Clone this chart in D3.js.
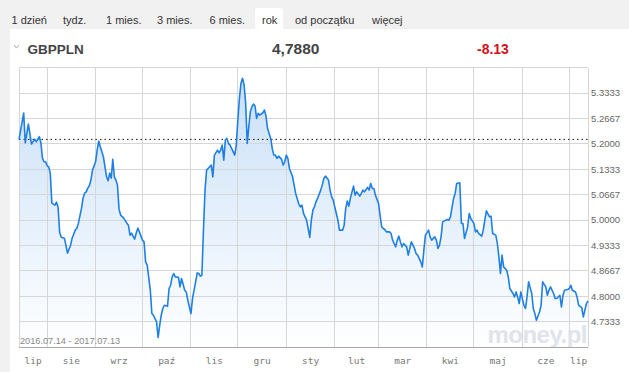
<!DOCTYPE html>
<html>
<head>
<meta charset="utf-8">
<script src="https://cdn.jsdelivr.net/npm/d3@7"></script>
<style>
html,body{margin:0;padding:0;background:#f1f1f1;}
svg{display:block;}
</style>
</head>
<body>
<svg id="chart" width="629" height="372"></svg>
<script>
// ---- data ----
const tabs = ["1 dzień","tydz.","1 mies.","3 mies.","6 mies.","rok","od początku","więcej"];
const activeTab = "rok";
const symbol = "GBPPLN";
const lastPrice = "4,7880";
const changePct = "-8.13";
const rangeLabel = "2016.07.14 - 2017.07.13";
const startDate = "2016-07-14";
const endDate = "2017-07-13";
const refValue = 5.2117;
const yTickLabels = ["4.7333","4.8000","4.8667","4.9333","5.0000","5.0667","5.1333","5.2000","5.2667","5.3333"];
const yMin = 4.6667, yMax = 5.4000;
const monthLabels = ["lip","sie","wrz","paź","lis","gru","sty","lut","mar","kwi","maj","cze","lip"];
const monthStarts = ["2016-07-01","2016-08-01","2016-09-01","2016-10-01","2016-11-01","2016-12-01","2017-01-01","2017-02-01","2017-03-01","2017-04-01","2017-05-01","2017-06-01","2017-07-01"];

const dates = [
"2016-07-14","2016-07-17","2016-07-18","2016-07-20","2016-07-22","2016-07-24","2016-07-25","2016-07-26","2016-07-27","2016-07-28","2016-07-29","2016-07-30","2016-07-31",
"2016-08-01","2016-08-02","2016-08-03","2016-08-04","2016-08-05","2016-08-06","2016-08-07","2016-08-08","2016-08-09","2016-08-10","2016-08-12","2016-08-13","2016-08-14","2016-08-16","2016-08-17","2016-08-19","2016-08-20","2016-08-21","2016-08-23","2016-08-24","2016-08-25","2016-08-26","2016-08-27","2016-08-28","2016-08-29","2016-08-30",
"2016-09-01","2016-09-02","2016-09-03","2016-09-04","2016-09-06","2016-09-07","2016-09-08","2016-09-09","2016-09-10","2016-09-11","2016-09-12","2016-09-13","2016-09-14","2016-09-15","2016-09-16","2016-09-17","2016-09-19","2016-09-21","2016-09-22","2016-09-23","2016-09-24","2016-09-26","2016-09-27","2016-09-28","2016-09-29",
"2016-10-01","2016-10-02","2016-10-03","2016-10-04","2016-10-06","2016-10-07","2016-10-08","2016-10-10","2016-10-11","2016-10-12","2016-10-13","2016-10-14","2016-10-15","2016-10-17","2016-10-18","2016-10-19","2016-10-20","2016-10-21","2016-10-22","2016-10-24","2016-10-25","2016-10-26","2016-10-28","2016-10-29","2016-10-30",
"2016-11-01","2016-11-02","2016-11-04","2016-11-05","2016-11-06","2016-11-07","2016-11-08","2016-11-09","2016-11-10","2016-11-11","2016-11-13","2016-11-14","2016-11-15","2016-11-16","2016-11-18","2016-11-19","2016-11-20","2016-11-21","2016-11-22","2016-11-23","2016-11-24","2016-11-25","2016-11-26","2016-11-27","2016-11-29","2016-11-30",
"2016-12-01","2016-12-02","2016-12-03","2016-12-04","2016-12-05","2016-12-06","2016-12-07","2016-12-08","2016-12-09","2016-12-10","2016-12-11","2016-12-12","2016-12-13","2016-12-14","2016-12-15","2016-12-17","2016-12-18","2016-12-19","2016-12-20","2016-12-22","2016-12-23","2016-12-24","2016-12-25","2016-12-26","2016-12-27","2016-12-29","2016-12-30","2016-12-31",
"2017-01-01","2017-01-02","2017-01-03","2017-01-05","2017-01-06","2017-01-07","2017-01-09","2017-01-10","2017-01-11","2017-01-12","2017-01-14","2017-01-16","2017-01-17","2017-01-18","2017-01-19","2017-01-20","2017-01-21","2017-01-23","2017-01-24","2017-01-25","2017-01-26","2017-01-28","2017-01-29","2017-01-30","2017-01-31",
"2017-02-01","2017-02-03","2017-02-04","2017-02-06","2017-02-07","2017-02-08","2017-02-09","2017-02-10","2017-02-11","2017-02-13","2017-02-14","2017-02-15","2017-02-17","2017-02-18","2017-02-19","2017-02-20","2017-02-22","2017-02-23","2017-02-24","2017-02-25","2017-02-26","2017-02-27",
"2017-03-01","2017-03-02","2017-03-03","2017-03-04","2017-03-05","2017-03-06","2017-03-08","2017-03-09","2017-03-10","2017-03-12","2017-03-13","2017-03-14","2017-03-15","2017-03-16","2017-03-17","2017-03-19","2017-03-20","2017-03-21","2017-03-22","2017-03-24","2017-03-25","2017-03-26","2017-03-28","2017-03-29","2017-03-30","2017-03-31",
"2017-04-02","2017-04-03","2017-04-04","2017-04-06","2017-04-07","2017-04-08","2017-04-09","2017-04-10","2017-04-11","2017-04-13","2017-04-14","2017-04-15","2017-04-16","2017-04-18","2017-04-19","2017-04-20","2017-04-22","2017-04-23","2017-04-24","2017-04-25","2017-04-27","2017-04-28","2017-04-29",
"2017-05-01","2017-05-02","2017-05-03","2017-05-04","2017-05-06","2017-05-07","2017-05-08","2017-05-09","2017-05-11","2017-05-12","2017-05-13","2017-05-15","2017-05-16","2017-05-17","2017-05-18","2017-05-19","2017-05-20","2017-05-22","2017-05-23","2017-05-24","2017-05-26","2017-05-27","2017-05-28","2017-05-29","2017-05-30","2017-05-31",
"2017-06-02","2017-06-03","2017-06-04","2017-06-05","2017-06-07","2017-06-08","2017-06-09","2017-06-10","2017-06-12","2017-06-13","2017-06-14","2017-06-16","2017-06-17","2017-06-18","2017-06-19","2017-06-21","2017-06-22","2017-06-23","2017-06-25","2017-06-26","2017-06-27","2017-06-28","2017-06-30",
"2017-07-01","2017-07-02","2017-07-03","2017-07-05","2017-07-06","2017-07-07","2017-07-09","2017-07-10","2017-07-12","2017-07-13"
];
const values = [
5.2117,5.2809,5.2029,5.2520,5.1995,5.2126,5.2055,5.2126,5.2187,5.2029,5.1627,5.1530,5.1530,
5.1424,5.1398,5.1233,5.0444,5.0418,5.0392,5.0470,5.0339,4.9682,4.9551,4.9524,4.9340,4.9130,4.9340,4.9524,4.9735,4.9787,4.9919,5.0313,5.0576,5.0707,5.0741,5.0838,5.0899,5.1049,5.1311,
5.1530,5.1837,5.2074,5.1924,5.1661,5.1398,5.1135,5.1030,5.1233,5.1101,5.1593,5.1135,5.1049,5.0917,5.0286,5.0129,5.0050,4.9919,4.9866,4.9603,4.9656,4.9498,4.9656,4.9787,4.9690,
4.9472,4.9427,4.8902,4.8815,4.8158,4.7545,4.7501,4.7325,4.6915,4.7238,4.7501,4.7677,4.7764,4.7737,4.8202,4.8289,4.8507,4.8597,4.8507,4.8499,4.8244,4.8465,4.8158,4.8113,4.7895,
4.7545,4.7940,4.8376,4.8612,4.8597,4.8526,4.8552,4.9735,5.0786,5.1311,5.1398,5.1443,5.1135,5.1706,5.1837,5.1766,5.1837,5.1968,5.1574,5.2100,5.2144,5.2013,5.1968,5.1882,5.1706,5.1968,
5.2625,5.3196,5.3590,5.3721,5.3545,5.3064,5.2013,5.2449,5.2844,5.2975,5.3046,5.2993,5.2670,5.2801,5.2757,5.2817,5.2888,5.2731,5.2407,5.2144,5.1882,5.1706,5.1706,5.1619,5.1679,5.1593,5.1443,5.1530,
5.1706,5.1619,5.1356,5.1135,5.0917,5.0699,5.0418,5.0347,5.0392,5.0173,4.9997,4.9543,4.9997,5.0260,5.0347,5.0478,5.0568,5.0786,5.0917,5.1093,5.1154,5.1049,5.0786,5.0610,5.0523,
5.0347,4.9997,4.9735,4.9735,4.9866,5.0305,5.0497,5.0365,5.0576,5.0891,5.0654,5.0741,5.0628,5.0699,5.0786,5.0741,5.0857,5.0786,5.0962,5.0830,5.0830,5.0654,
5.0436,5.0129,4.9821,4.9779,4.9753,4.9690,4.9690,4.9648,4.9472,4.9296,4.9472,4.9577,4.9427,4.9296,4.9385,4.9296,4.9078,4.9254,4.9427,4.9254,4.9122,4.9078,4.8902,4.8770,4.9209,4.9603,
4.9735,4.9559,4.9472,4.9559,4.9472,4.9254,4.9340,4.9559,4.9953,4.9997,5.0016,4.9997,5.0084,5.0568,5.0699,5.0962,5.0978,4.9911,4.9911,4.9516,4.9821,5.0173,5.0042,
4.9911,4.9690,4.9735,4.9648,4.9577,4.9735,4.9997,5.0242,5.0084,5.0103,4.9648,4.9603,4.9385,4.9033,4.8597,4.9078,4.8770,4.8683,4.8507,4.8202,4.8071,4.7982,4.8113,4.7982,4.7808,4.8113,
4.7764,4.7677,4.7982,4.8376,4.8071,4.7677,4.7545,4.7369,4.7587,4.7764,4.8376,4.8244,4.8026,4.8158,4.8244,4.8071,4.7940,4.7940,4.8026,4.7719,4.8026,4.8158,4.8176,
4.8202,4.8289,4.8158,4.8113,4.7982,4.7764,4.7703,4.7456,4.7808,4.7880
];

// ---- drawing ----
const parse = d3.timeParse("%Y-%m-%d");
const series = dates.map((d,i)=>({date:parse(d), value:values[i]}));
const svg = d3.select("#chart");

const plot = {left:19, right:588, top:67.7, bottom:347};

// panel backgrounds
svg.append("rect").attr("x",0).attr("y",0).attr("width",629).attr("height",372).attr("fill","#f1f1f1");
svg.append("rect").attr("x",10).attr("y",29).attr("width",619).attr("height",343).attr("fill","#ffffff");

// tabs
svg.append("path").attr("d","M255,29 V11 Q255,8 258,8 H280 Q283,8 283,11 V29 Z").attr("fill","#ffffff");
const tabX = [11.5,63,106,157,209.5,262,295,372];
const tabG = svg.append("g").attr("font-family","Liberation Sans, Arial, sans-serif").attr("font-size",11).attr("fill","#333");
tabs.forEach((t,i)=>{
  tabG.append("text").attr("x",tabX[i]).attr("y",23.5).text(t);
});

// header
svg.append("path").attr("d","M14,45 L16.5,48 L19,45").attr("fill","none").attr("stroke","#aaa").attr("stroke-width",1);
svg.append("text").attr("x",27.5).attr("y",53.5).attr("font-family","Liberation Sans, Arial, sans-serif")
  .attr("font-weight","bold").attr("font-size",13.5).attr("fill","#444").text(symbol);
svg.append("text").attr("x",272).attr("y",53.5).attr("font-family","Liberation Sans, Arial, sans-serif")
  .attr("font-weight","bold").attr("font-size",15.5).attr("fill","#444").text(lastPrice);
svg.append("text").attr("x",477).attr("y",53.5).attr("font-family","Liberation Sans, Arial, sans-serif")
  .attr("font-weight","bold").attr("font-size",14).attr("fill","#d3111b").text(changePct);

// scales
const x = d3.scaleTime().domain([parse(startDate), parse(endDate)]).range([plot.left, plot.right]);
const y = d3.scaleLinear().domain([yMin, yMax]).range([plot.bottom, plot.top]);

// gradient
const defs = svg.append("defs");
const grad = defs.append("linearGradient").attr("id","areaGrad").attr("gradientUnits","userSpaceOnUse")
  .attr("x1",0).attr("x2",0).attr("y1",plot.top+10).attr("y2",plot.bottom);
grad.append("stop").attr("offset","0").attr("stop-color","#c9e0f8");
grad.append("stop").attr("offset","1").attr("stop-color","#ffffff");

// area (under grid)
const area = d3.area().x(d=>x(d.date)).y0(plot.bottom).y1(d=>y(d.value));
const line = d3.line().x(d=>x(d.date)).y(d=>y(d.value));
svg.append("path").datum(series).attr("d",area).attr("fill","url(#areaGrad)");

// grid
const grid = svg.append("g").attr("stroke","#d6d6d6").attr("stroke-width",1).attr("shape-rendering","crispEdges");
const gridVals = yTickLabels.map(Number).concat([yMax]);
grid.selectAll("line.h").data(gridVals).enter().append("line")
  .attr("x1",plot.left).attr("x2",plot.right).attr("y1",d=>y(d)).attr("y2",d=>y(d));
const monthDates = monthStarts.map(parse).filter(d=>d>parse(startDate));
grid.selectAll("line.v").data(monthDates).enter().append("line")
  .attr("x1",d=>x(d)).attr("x2",d=>x(d)).attr("y1",plot.top).attr("y2",plot.bottom);
grid.append("line").attr("x1",plot.left).attr("x2",plot.left).attr("y1",plot.top).attr("y2",plot.bottom);
grid.append("line").attr("x1",plot.right).attr("x2",plot.right).attr("y1",plot.top).attr("y2",plot.bottom);

// watermark
svg.append("text").attr("x",587).attr("y",343).attr("text-anchor","end")
  .attr("font-family","Liberation Sans, Arial, sans-serif").attr("font-weight","bold").attr("font-size",24)
  .attr("fill","#dfe3ea").attr("letter-spacing",-0.5).text("money.pl");

// range label
svg.append("text").attr("x",20).attr("y",344).attr("font-family","Liberation Sans, Arial, sans-serif")
  .attr("font-size",9.2).attr("fill","#888").text(rangeLabel);

// reference dotted line
svg.append("line").attr("x1",plot.left).attr("x2",plot.right).attr("y1",y(refValue)).attr("y2",y(refValue))
  .attr("stroke","#111").attr("stroke-width",1).attr("stroke-dasharray","1.5,3");

svg.append("path").datum(series).attr("d",line).attr("fill","none")
  .attr("stroke","#1f80e3").attr("stroke-width",1.6).attr("stroke-linejoin","round");

// bottom axis line
svg.append("line").attr("x1",plot.left).attr("x2",plot.right).attr("y1",plot.bottom).attr("y2",plot.bottom)
  .attr("stroke","#a8a8a8").attr("stroke-width",1).attr("shape-rendering","crispEdges");

// y labels
svg.append("g").selectAll("text").data(yTickLabels).enter().append("text")
  .attr("x",591).attr("y",d=>y(Number(d))).attr("dy","0.35em")
  .attr("font-family","Liberation Sans, Arial, sans-serif").attr("font-size",9.5).attr("fill","#666").text(d=>d);

// month labels
const bounds = monthStarts.map(parse);
const dStart = parse(startDate), dEnd = parse(endDate);
svg.append("g").selectAll("text").data(monthLabels).enter().append("text")
  .attr("x",(d,i)=>{
    const a = i===0 ? dStart : bounds[i];
    const b = i+1<bounds.length ? bounds[i+1] : dEnd;
    return (x(a < dStart ? dStart : a) + x(b > dEnd ? dEnd : b))/2;
  })
  .attr("y",364).attr("text-anchor","middle")
  .attr("font-family","DejaVu Sans Mono, Liberation Mono, monospace").attr("font-size",9.5).attr("fill","#777").text(d=>d);
</script>
</body>
</html>
